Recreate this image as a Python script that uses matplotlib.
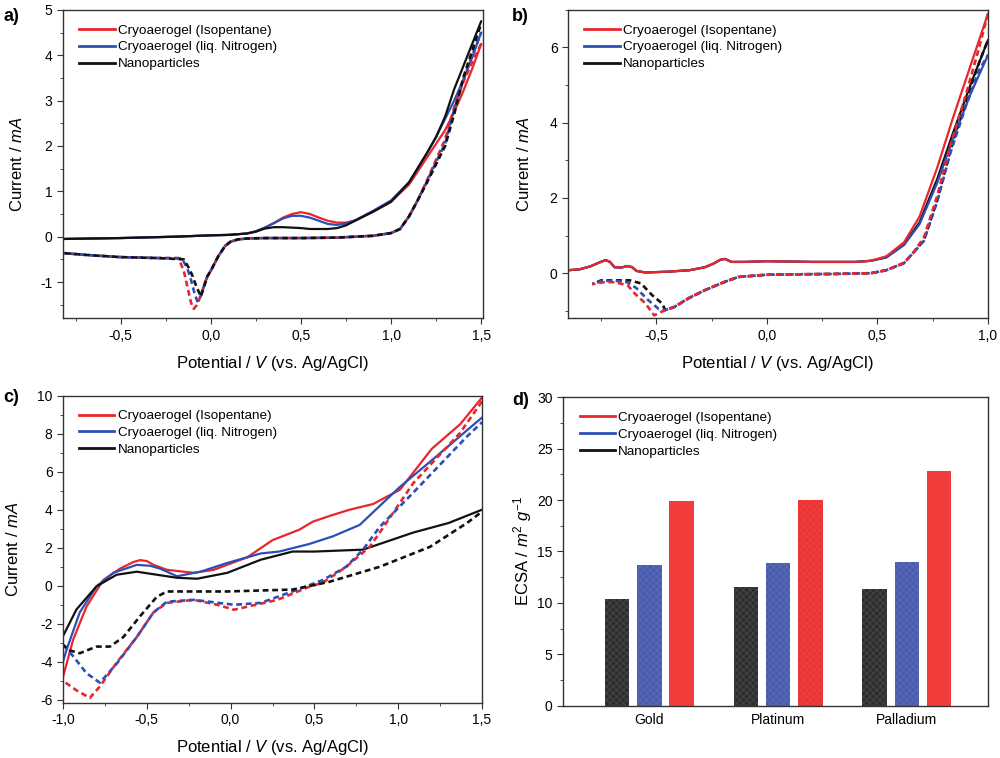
import matplotlib
matplotlib.use("Agg")
import matplotlib.pyplot as plt
from matplotlib.lines import Line2D
from matplotlib.ticker import MultipleLocator, FuncFormatter

plt.rcParams['font.family'] = ['Liberation Sans', 'DejaVu Sans']
plt.rcParams['mathtext.fontset'] = 'custom'
plt.rcParams['mathtext.rm'] = 'Liberation Sans'
plt.rcParams['mathtext.it'] = 'Liberation Sans:italic'
plt.rcParams['hatch.linewidth'] = 0.6

RED = '#e8262b'
BLUE = '#2b4fb5'
BLACK = '#111111'
names = ['Cryoaerogel (Isopentane)', 'Cryoaerogel (liq. Nitrogen)', 'Nanoparticles']

# ---- panel a: gold ----
a_fwd_v = [-0.82, -0.5, -0.2, 0.0, 0.1, 0.2, 0.25, 0.3, 0.35, 0.4, 0.45, 0.5, 0.55, 0.6,
           0.65, 0.7, 0.75, 0.8, 0.9, 1.0, 1.1, 1.2, 1.25, 1.3, 1.35, 1.4, 1.45, 1.5]
a_fwd_red = [-0.05, -0.03, 0.0, 0.03, 0.04, 0.07, 0.12, 0.2, 0.3, 0.42, 0.5, 0.54, 0.5, 0.42,
             0.35, 0.31, 0.31, 0.36, 0.55, 0.77, 1.15, 1.75, 2.05, 2.35, 2.75, 3.2, 3.7, 4.25]
a_fwd_blue = [-0.05, -0.03, 0.0, 0.03, 0.04, 0.07, 0.12, 0.2, 0.3, 0.4, 0.46, 0.46, 0.42, 0.35,
              0.28, 0.26, 0.29, 0.36, 0.57, 0.8, 1.2, 1.85, 2.2, 2.6, 3.0, 3.45, 3.95, 4.5]
a_fwd_black = [-0.05, -0.03, 0.0, 0.03, 0.04, 0.07, 0.11, 0.18, 0.21, 0.21, 0.2, 0.19, 0.17, 0.17,
               0.17, 0.19, 0.25, 0.35, 0.55, 0.77, 1.2, 1.85, 2.2, 2.65, 3.25, 3.75, 4.25, 4.75]

a_rev_v_top = [1.5, 1.45, 1.4, 1.35, 1.3, 1.25, 1.2, 1.15, 1.1, 1.05, 1.0, 0.9, 0.7, 0.5, 0.3,
               0.2, 0.15, 0.11, 0.08, 0.04, 0.0, -0.02]
a_rev_common = [0.02, -0.02, -0.03, -0.03, -0.04, -0.06, -0.11, -0.2, -0.44, -0.75, -0.88]
a_rev_red_top = [4.25, 3.85, 3.4, 2.85, 2.15, 1.7, 1.25, 0.82, 0.45, 0.17, 0.08]
a_rev_blue_top = [4.5, 4.0, 3.45, 2.8, 2.05, 1.65, 1.22, 0.82, 0.45, 0.17, 0.08]
a_rev_black_top = [4.7, 4.1, 3.5, 2.7, 2.0, 1.6, 1.2, 0.82, 0.45, 0.17, 0.08]
a_rev_red_v_end = [-0.065, -0.08, -0.095, -0.11, -0.13, -0.15, -0.18, -0.3, -0.5, -0.7, -0.82]
a_rev_red_end = [-1.39, -1.52, -1.59, -1.45, -1.1, -0.75, -0.47, -0.47, -0.45, -0.4, -0.36]
a_rev_blue_v_end = [-0.06, -0.075, -0.09, -0.11, -0.13, -0.16, -0.3, -0.5, -0.7, -0.82]
a_rev_blue_end = [-1.35, -1.42, -1.25, -0.95, -0.7, -0.48, -0.47, -0.45, -0.4, -0.36]
a_rev_black_v_end = [-0.055, -0.08, -0.1, -0.12, -0.15, -0.3, -0.5, -0.7, -0.82]
a_rev_black_end = [-1.32, -1.1, -0.88, -0.7, -0.5, -0.47, -0.45, -0.4, -0.36]

# ---- panel b: platinum ----
b_fwd_v = [-0.9, -0.85, -0.8, -0.76, -0.73, -0.71, -0.69, -0.66, -0.63, -0.61, -0.59, -0.55,
           -0.45, -0.35, -0.28, -0.24, -0.21, -0.19, -0.16, -0.1, 0.0, 0.2, 0.4, 0.47, 0.54,
           0.62, 0.69, 0.77, 0.84, 0.92, 1.0]
b_fwd_base = [0.08, 0.1, 0.18, 0.28, 0.35, 0.3, 0.16, 0.15, 0.19, 0.16, 0.06, 0.02, 0.04, 0.08,
              0.16, 0.26, 0.36, 0.38, 0.3, 0.3, 0.32, 0.3, 0.3, 0.33]
b_fwd_red_top = [0.45, 0.82, 1.5, 2.8, 4.1, 5.5, 6.9]
b_fwd_blue_top = [0.42, 0.75, 1.3, 2.4, 3.55, 4.75, 5.8]
b_fwd_black_top = [0.42, 0.76, 1.35, 2.5, 3.7, 5.0, 6.2]

b_rev_v = [1.0, 0.96, 0.9, 0.83, 0.77, 0.71, 0.66, 0.62, 0.54, 0.47, 0.3, 0.13, 0.0, -0.13,
           -0.2, -0.28, -0.35, -0.42, -0.46]
b_rev_red_top = [6.9, 6.0, 4.75, 3.4, 2.05, 0.95]
b_rev_blue_top = [5.8, 5.4, 4.45, 3.2, 1.9, 0.86]
b_rev_black_top = [6.2, 5.6, 4.6, 3.27, 1.94, 0.88]
b_rev_common = [0.53, 0.27, 0.08, 0.0, -0.02, -0.03, -0.04, -0.1, -0.25, -0.45, -0.65, -0.9, -0.98]
b_rev_red_v_end = [-0.51, -0.55, -0.6, -0.63, -0.69, -0.74, -0.79]
b_rev_red_end = [-1.12, -0.8, -0.53, -0.32, -0.24, -0.24, -0.29]
b_rev_blue_v_end = [-0.49, -0.54, -0.59, -0.63, -0.69, -0.75, -0.79]
b_rev_blue_end = [-0.95, -0.7, -0.4, -0.24, -0.2, -0.21, -0.29]
b_rev_black_v_end = [-0.475, -0.52, -0.57, -0.62, -0.69, -0.75, -0.79]
b_rev_black_end = [-0.8, -0.58, -0.27, -0.19, -0.19, -0.19, -0.29]

# ---- panel c: palladium ----
c_fwd_red_v = [-1.0, -0.94, -0.86, -0.76, -0.66, -0.58, -0.54, -0.5, -0.46, -0.38, -0.22, -0.1,
               0.1, 0.25, 0.41, 0.49, 0.6, 0.71, 0.85, 1.01, 1.2, 1.37, 1.5]
c_fwd_red = [-4.8, -2.85, -1.1, 0.3, 0.9, 1.25, 1.35, 1.3, 1.1, 0.84, 0.68, 0.84, 1.5, 2.4, 2.95,
             3.37, 3.7, 4.0, 4.3, 5.05, 7.2, 8.5, 9.9]
c_fwd_blue_v = [-1.0, -0.98, -0.9, -0.8, -0.7, -0.56, -0.48, -0.42, -0.32, -0.18, -0.02, 0.18,
                0.29, 0.47, 0.61, 0.77, 0.89, 1.01, 1.2, 1.5]
c_fwd_blue = [-4.0, -3.4, -1.4, -0.03, 0.68, 1.1, 1.05, 0.9, 0.5, 0.74, 1.2, 1.7, 1.8, 2.2, 2.6,
              3.2, 4.2, 5.2, 6.6, 8.85]
c_fwd_black_v = [-1.0, -0.92, -0.8, -0.68, -0.56, -0.44, -0.32, -0.2, -0.02, 0.18, 0.37, 0.5,
                 0.79, 1.09, 1.3, 1.5]
c_fwd_black = [-2.65, -1.25, -0.03, 0.58, 0.74, 0.58, 0.42, 0.37, 0.68, 1.37, 1.8, 1.8, 1.9, 2.8,
               3.3, 4.0]

c_rev_red_v = [1.5, 1.37, 1.09, 0.89, 0.83, 0.69, 0.55, 0.47, 0.28, 0.02, -0.08, -0.22, -0.38,
               -0.46, -0.56, -0.68, -0.78, -0.84, -0.92, -1.0]
c_rev_red = [9.7, 8.05, 5.4, 2.8, 2.05, 1.0, 0.16, -0.05, -0.74, -1.26, -1.0, -0.74, -0.9, -1.4,
             -2.7, -4.05, -5.3, -5.9, -5.5, -5.0]
c_rev_blue_v = [1.5, 1.41, 1.09, 0.89, 0.79, 0.69, 0.55, 0.4, 0.18, 0.02, -0.22, -0.38, -0.46,
                -0.56, -0.68, -0.78, -0.86, -0.94, -1.0]
c_rev_blue = [8.6, 7.85, 4.9, 3.1, 1.9, 1.0, 0.3, -0.2, -0.9, -1.0, -0.74, -0.84, -1.4, -2.7,
              -4.1, -5.1, -4.6, -3.7, -3.1]
c_rev_black_v = [1.5, 1.41, 1.19, 0.89, 0.59, 0.37, -0.02, -0.38, -0.44, -0.54, -0.64, -0.72,
                 -0.8, -0.9, -0.96, -1.0]
c_rev_black = [3.9, 3.3, 2.05, 1.0, 0.21, -0.2, -0.3, -0.3, -0.58, -1.6, -2.7, -3.2, -3.2, -3.55,
               -3.4, -3.1]

# ---- panel d: ECSA ----
metals = ['Gold', 'Platinum', 'Palladium']
ecsa_np = [10.4, 11.5, 11.3]
ecsa_ln = [13.7, 13.9, 14.0]
ecsa_iso = [19.9, 20.0, 22.8]

fig = plt.figure(figsize=(10, 7.58), dpi=100)
ax_a = fig.add_axes([0.063, 0.580, 0.420, 0.407])
ax_b = fig.add_axes([0.568, 0.580, 0.420, 0.407])
ax_c = fig.add_axes([0.063, 0.073, 0.419, 0.405])
ax_d = fig.add_axes([0.563, 0.069, 0.425, 0.407])

comma1 = FuncFormatter(lambda v, p: ('%.1f' % v).replace('.', ','))
intfmt = FuncFormatter(lambda v, p: '%d' % round(v))


def style(ax, xmaj, xmin, ymaj, ymin):
    for s in ax.spines.values():
        s.set_linewidth(1.0)
        s.set_color('#333333')
    ax.xaxis.set_major_locator(MultipleLocator(xmaj))
    ax.xaxis.set_minor_locator(MultipleLocator(xmin))
    ax.yaxis.set_major_locator(MultipleLocator(ymaj))
    ax.yaxis.set_minor_locator(MultipleLocator(ymin))
    ax.tick_params(which='both', direction='out', top=False, right=False, labelsize=10,
                   color='#333333')
    ax.tick_params(which='major', length=4)
    ax.tick_params(which='minor', length=2.5)
    ax.yaxis.set_major_formatter(intfmt)


def legend(ax):
    hs = [Line2D([], [], color=c, lw=2) for c in (RED, BLUE, BLACK)]
    ax.legend(hs, names, loc='upper left', bbox_to_anchor=(0.02, 0.98), frameon=False,
              fontsize=9.7, handlelength=2.6, handletextpad=0.25, labelspacing=0.33,
              borderaxespad=0.2)


def cv(ax, fwd, rev, order=(0, 1, 2)):
    cols = (RED, BLUE, BLACK)
    for k in order:
        v, i = fwd[k]
        ax.plot(v, i, color=cols[k], lw=1.6, solid_capstyle='round')
    for k in order:
        v, i = rev[k]
        ax.plot(v, i, color=cols[k], lw=1.9, linestyle=(k * 1.2, (2.2, 1.4)))


# panel a
cv(ax_a,
   [(a_fwd_v, a_fwd_red), (a_fwd_v, a_fwd_blue), (a_fwd_v, a_fwd_black)],
   [(a_rev_v_top + a_rev_red_v_end, a_rev_red_top + a_rev_common + a_rev_red_end),
    (a_rev_v_top + a_rev_blue_v_end, a_rev_blue_top + a_rev_common + a_rev_blue_end),
    (a_rev_v_top + a_rev_black_v_end, a_rev_black_top + a_rev_common + a_rev_black_end)])
ax_a.set_xlim(-0.82, 1.51)
ax_a.set_ylim(-1.8, 5.0)
style(ax_a, 0.5, 0.25, 1, 0.5)
ax_a.xaxis.set_major_formatter(comma1)

# panel b (red drawn on top)
cv(ax_b,
   [(b_fwd_v, b_fwd_base + b_fwd_red_top), (b_fwd_v, b_fwd_base + b_fwd_blue_top),
    (b_fwd_v, b_fwd_base + b_fwd_black_top)],
   [(b_rev_v + b_rev_red_v_end, b_rev_red_top + b_rev_common + b_rev_red_end),
    (b_rev_v + b_rev_blue_v_end, b_rev_blue_top + b_rev_common + b_rev_blue_end),
    (b_rev_v + b_rev_black_v_end, b_rev_black_top + b_rev_common + b_rev_black_end)],
   order=(2, 1, 0))
ax_b.set_xlim(-0.9, 1.0)
ax_b.set_ylim(-1.2, 7.0)
style(ax_b, 0.5, 0.25, 2, 1)
ax_b.xaxis.set_major_formatter(comma1)

# panel c
cv(ax_c,
   [(c_fwd_red_v, c_fwd_red), (c_fwd_blue_v, c_fwd_blue), (c_fwd_black_v, c_fwd_black)],
   [(c_rev_red_v, c_rev_red), (c_rev_blue_v, c_rev_blue), (c_rev_black_v, c_rev_black)])
ax_c.set_xlim(-1.0, 1.5)
ax_c.set_ylim(-6.15, 10.0)
style(ax_c, 0.5, 0.25, 2, 1)
ax_c.xaxis.set_major_formatter(comma1)

for ax, lp in ((ax_a, 11), (ax_b, 13), (ax_c, 12)):
    ax.set_xlabel('Potential / $\\mathit{V}$ (vs. Ag/AgCl)', fontsize=12, labelpad=8)
    ax.set_ylabel('Current / $\\mathit{mA}$', fontsize=12, labelpad=lp)
    legend(ax)

# panel d
pos = [1, 2, 3]
w = 0.19
b_np = ax_d.bar([p - 0.25 for p in pos], ecsa_np, w, color='#2e2e2e', edgecolor='#474747',
                linewidth=0, hatch='xxxxx')
b_ln = ax_d.bar(pos, ecsa_ln, w, color='#4a5cae', edgecolor='#5a6bb8', linewidth=0,
                hatch='xxxxx')
b_iso = ax_d.bar([p + 0.25 for p in pos], ecsa_iso, w, color='#f23c3c', linewidth=0)
b_iso[1].set_hatch('xxxxx')
b_iso[1].set_edgecolor('#e03434')
ax_d.set_xlim(0.33, 3.63)
ax_d.set_ylim(0, 30)
style(ax_d, 1, 1, 5, 2.5)
ax_d.set_xticks(pos)
ax_d.set_xticklabels(metals)
ax_d.tick_params(axis='x', which='both', length=0, pad=5)
ax_d.set_ylabel('ECSA / $\\mathit{m}^{2}$ $\\mathit{g}^{-1}$', fontsize=12, labelpad=2)
legend(ax_d)

for lab, x, y in (('a)', 0.003, 0.978), ('b)', 0.512, 0.978), ('c)', 0.003, 0.475), ('d)', 0.512, 0.472)):
    fig.text(x, y, lab, fontsize=13, fontweight='bold', va='center')

fig.savefig('out.png', dpi=100)
